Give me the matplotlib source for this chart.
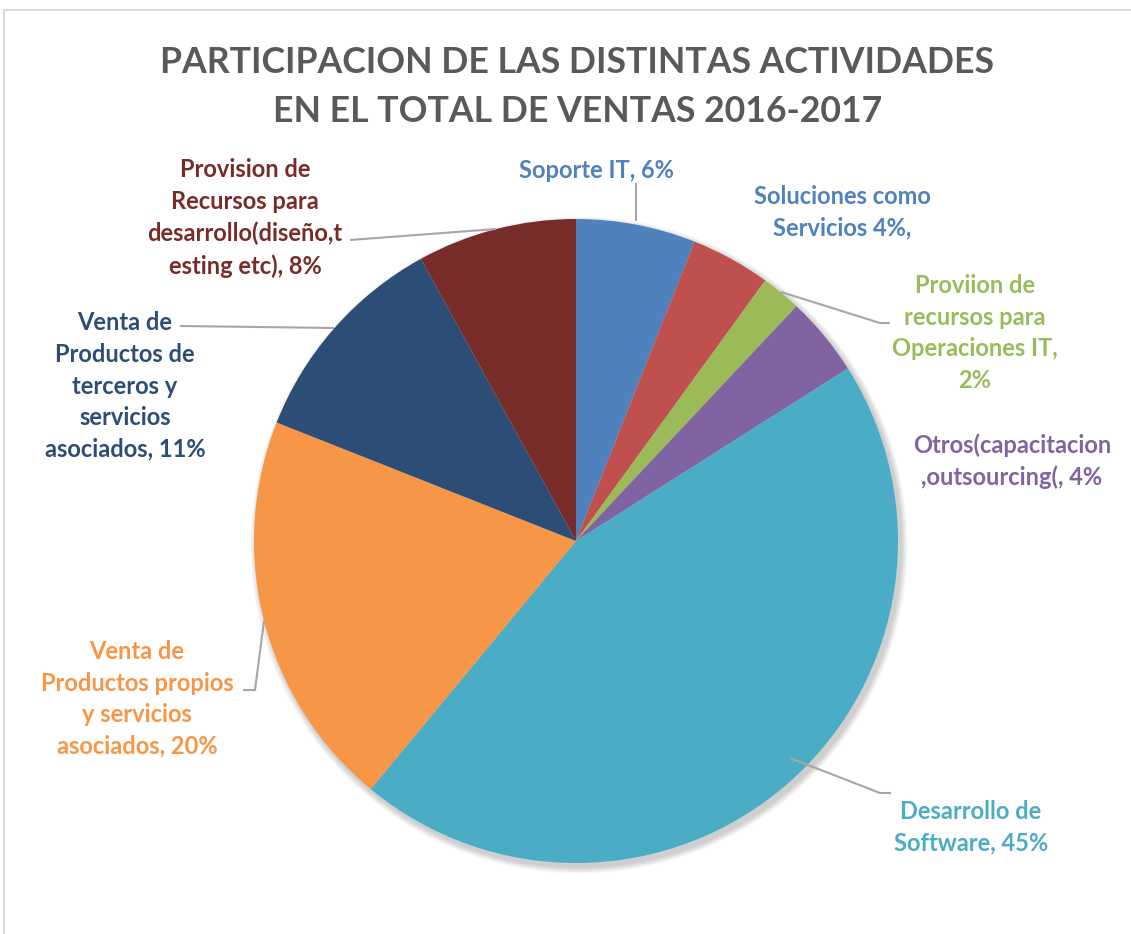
import matplotlib
matplotlib.use('Agg')
import matplotlib.pyplot as plt
from matplotlib.patches import Circle
from matplotlib.lines import Line2D

# Datos
labels = ['Soporte IT, 6%',
          'Soluciones como\nServicios 4%,',
          'Proviion de\nrecursos para\nOperaciones IT,\n2%',
          'Otros(capacitacion\n,outsourcing(, 4%',
          'Desarrollo de\nSoftware, 45%',
          'Venta de\nProductos propios\ny servicios\nasociados, 20%',
          'Venta de\nProductos de\nterceros y\nservicios\nasociados, 11%',
          'Provision de\nRecursos para\ndesarrollo(diseño,t\nesting etc), 8%']
values = [6, 4, 2, 4, 45, 20, 11, 8]
colors = ['#4F81BD', '#C0504D', '#9BBB59', '#8064A2', '#4BACC6', '#F79646', '#2C4D75', '#772C2A']
label_colors = ['#4F81BD', '#4F81BD', '#9BBB59', '#8064A2', '#4BACC6', '#F79646', '#2C4D75', '#772C2A']

W, H = 1131, 934
plt.rcParams['font.family'] = ['Lato', 'DejaVu Sans']

fig = plt.figure(figsize=(W / 100, H / 100), dpi=100)
ax = fig.add_axes([0, 0, 1, 1])

cx, cy, r = 576, H - 541, 322

# sombra suave
for i in range(8):
    ax.add_patch(Circle((cx + 3, cy - 4), r + 1 + i * 0.8, color='black', alpha=0.025, lw=0, zorder=0))

ax.pie(values, colors=colors, startangle=90, counterclock=False,
       center=(cx, cy), radius=r, wedgeprops=dict(linewidth=0), frame=False)
ax.set_xlim(0, W)
ax.set_ylim(0, H)
ax.set_aspect('equal')
ax.axis('off')

# posiciones de etiquetas (pixeles de imagen)
label_pos = [(596, 170), (842, 212), (975, 333), (1012, 461),
             (971, 827), (137, 699), (125, 386), (245, 218)]
for txt, (x, y), c in zip(labels, label_pos, label_colors):
    ax.text(x, H - y, txt, ha='center', va='center', multialignment='center',
            fontsize=17, fontweight='bold', color=c, linespacing=1.45)

# lineas guia
leaders = [
    [(636, 183), (636, 221)],
    [(781, 292), (880, 323), (890, 323)],
    [(790, 758), (880, 793), (891, 793)],
    [(264, 621), (255, 690), (243, 690)],
    [(180, 326), (334, 328)],
    [(350, 240), (496, 229)],
]
for pts in leaders:
    xs = [p[0] for p in pts]
    ys = [H - p[1] for p in pts]
    ax.plot(xs, ys, color='#A6A6A6', lw=1.5, solid_capstyle='butt', zorder=5)

# titulo
ax.text(W / 2 + 12, H - 87, 'PARTICIPACION DE LAS DISTINTAS ACTIVIDADES\nEN EL TOTAL DE VENTAS 2016-2017',
        ha='center', va='center', fontsize=25.7, fontweight='bold', color='#595959', linespacing=1.62)

# borde del grafico
fig.add_artist(Line2D([4 / W, 1], [1 - 10 / H, 1 - 10 / H], color='#D9D9D9', lw=1.5))
fig.add_artist(Line2D([4 / W, 4 / W], [0, 1 - 10 / H], color='#D9D9D9', lw=1.5))

fig.savefig('out.png', dpi=100, facecolor='white')
